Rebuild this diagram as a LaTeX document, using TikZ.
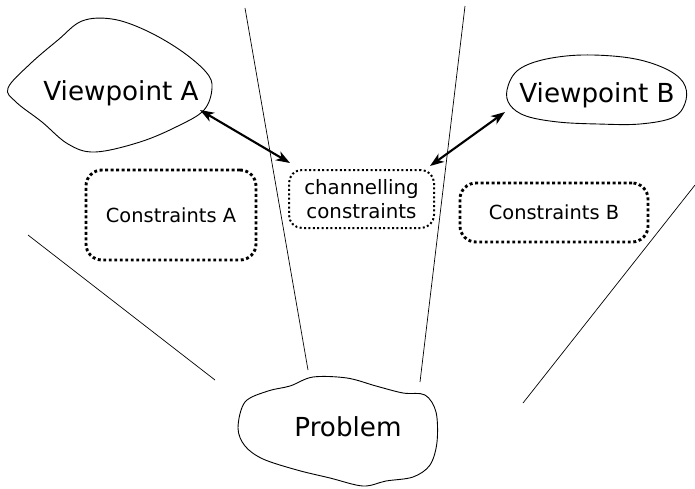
\documentclass[tikz,border=0pt]{standalone}
\usepackage{fontspec}
\setmainfont{DejaVu Sans}
\usetikzlibrary{arrows.meta}
\begin{document}
\begin{tikzpicture}[x=1pt,y=-1pt,
  outline/.style={line width=0.9pt, line join=round},
  divider/.style={line width=0.7pt},
  bigdots/.style={draw, line width=2.9pt, dash pattern=on 2.9pt off 2.6pt, rounded corners=16pt},
  smalldots/.style={draw, line width=2pt, dash pattern=on 2pt off 2.4pt, rounded corners=13pt},
  biglabel/.style={font=\fontsize{26.2}{31}\selectfont},
  boxlabel/.style={font=\fontsize{19.4}{23}\selectfont},
  link/.style={line width=2.1pt, {Stealth[length=14pt,width=10pt,inset=4pt]}-{Stealth[length=14pt,width=10pt,inset=4pt]}}]
\useasboundingbox (0,0) rectangle (695,488);

% dividing lines
\draw[divider] (245,8) -- (308,370);
\draw[divider] (465,6) -- (420,382);
\draw[divider] (28,235) -- (215,380);
\draw[divider] (695,185) -- (523,403);

% viewpoint A outline
\draw[outline] plot[smooth cycle, tension=0.6] coordinates {
  (8,88) (30,64) (58,40) (82,21) (112,19) (145,30) (180,50) (206,72)
  (212,88) (204,110) (178,126) (140,142) (95,152) (68,144) (42,122) (16,102)};
\node[biglabel] (va) at (121,93) {Viewpoint A};

% viewpoint B outline
\draw[outline] plot[smooth cycle, tension=0.6] coordinates {
  (507,90) (517,71) (542,60) (582,55) (630,58) (664,68) (683,82)
  (686,100) (674,117) (640,124) (598,124) (558,122) (526,116) (510,105)};
\node[biglabel] (vb) at (597,95) {Viewpoint B};

% problem cloud
\draw[outline] plot[smooth cycle, tension=0.55] coordinates {
  (238,428) (245,402) (268,391) (290,386) (313,377) (347,378) (376,386)
  (403,393) (425,395) (436,412) (437,442) (430,465) (413,477) (386,481)
  (363,486) (330,478) (297,470) (263,459) (245,446)};
\node[biglabel] (pr) at (348,427) {Problem};

% constraint boxes
\node[bigdots, boxlabel, minimum width=170pt, minimum height=90pt, inner sep=0pt]
  (ca) at (171,215) {Constraints A};
\node[smalldots, align=center, font=\fontsize{19.8}{24}\selectfont,
  minimum width=145pt, minimum height=58pt, inner sep=0pt]
  (ch) at (361.5,199) {channelling\\constraints};
\node[bigdots, boxlabel, minimum width=188pt, minimum height=59pt, inner sep=0pt]
  (cb) at (554,212.5) {Constraints B};

% arrow end points
\coordinate (vaedge) at (200,110);
\coordinate (vbedge) at (505,112);
\coordinate (chleft) at (290,163);
\coordinate (chright) at (430,166);

\draw[link] (vaedge) -- (chleft);
\draw[link] (vbedge) -- (chright);
\end{tikzpicture}
\end{document}
